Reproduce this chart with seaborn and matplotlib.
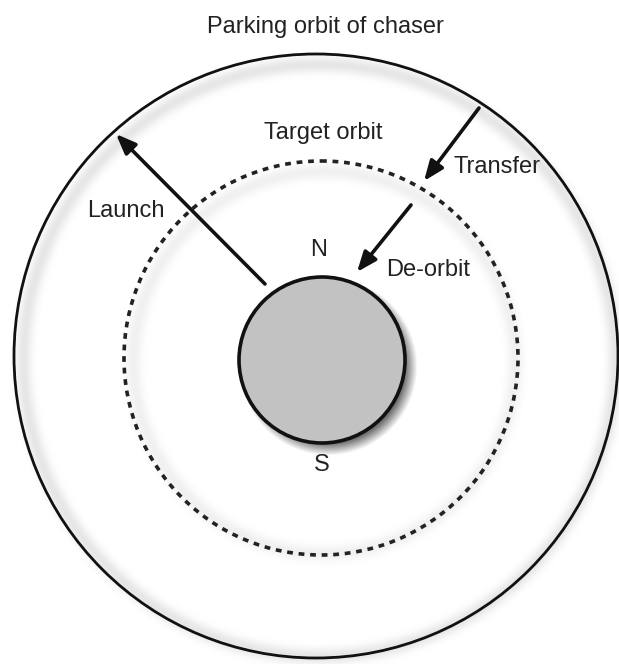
import numpy as np
import matplotlib.pyplot as plt
import seaborn as sns
from matplotlib.patches import Circle

sns.set_theme(style="white")
plt.rcParams['font.family'] = ['Liberation Sans', 'DejaVu Sans']

# orbits (pixel units of the original diagram)
orbit_names = ['Parking orbit of chaser', 'Target orbit', 'Earth']
orbit_cx = [316, 321, 322]
orbit_cy = [356, 358, 360]
orbit_r = [302, 197, 83]

# manoeuvres: start -> end
arrow_names = ['Launch', 'Transfer', 'De-orbit']
arrow_x0 = [265, 479, 411]
arrow_y0 = [284, 108, 205]
arrow_x1 = [116, 424, 357]
arrow_y1 = [134, 181, 272]

# text labels
label_text = ['Parking orbit of chaser', 'Target orbit', 'Transfer', 'Launch', 'N', 'De-orbit', 'S']
label_x = [325, 323, 497, 126, 319, 428, 322]
label_y = [27, 133, 167, 211, 250, 270, 465]

W, H = 619, 664
fig = plt.figure(figsize=(W / 100, H / 100), dpi=100)
ax = fig.add_axes([0, 0, 1, 1])
ax.set_xlim(0, W)
ax.set_ylim(H, 0)
ax.set_aspect('equal')
ax.axis('off')

# soft shadows
yy, xx = np.mgrid[0:H, 0:W]
shade = np.zeros((H, W))
# earth drop shadow
d = np.hypot(xx - orbit_cx[2] - 6, yy - orbit_cy[2] - 6)
shade = np.maximum(shade, 0.55 * np.clip((orbit_r[2] + 6 - d) / 12, 0, 1))
# faint glows along the orbits
for i, s in [(0, 0.10), (1, 0.06)]:
    d = np.hypot(xx - orbit_cx[i] - 3, yy - orbit_cy[i] - 4)
    shade = np.maximum(shade, s * np.exp(-((d - orbit_r[i] + 6) / 8) ** 2))
rgba = np.zeros((H, W, 4))
rgba[..., 3] = shade
ax.imshow(rgba, extent=(0, W, H, 0), zorder=1)

ax.add_patch(Circle((orbit_cx[0], orbit_cy[0]), orbit_r[0], fill=False,
                    ec='#111111', lw=2.0, zorder=2))
ax.add_patch(Circle((orbit_cx[1], orbit_cy[1]), orbit_r[1], fill=False,
                    ec='#222222', lw=2.6, ls=(0, (1.6, 1.6)), zorder=2))
ax.add_patch(Circle((orbit_cx[2], orbit_cy[2]), orbit_r[2], fc='#c2c2c2',
                    ec='#111111', lw=2.6, zorder=3))

for x0, y0, x1, y1 in zip(arrow_x0, arrow_y0, arrow_x1, arrow_y1):
    ax.annotate('', xy=(x1, y1), xytext=(x0, y0),
                arrowprops=dict(arrowstyle='-|>,head_length=1.0,head_width=0.4',
                                color='#111111', lw=2.6, shrinkA=0, shrinkB=0),
                zorder=4)

for t, x, y in zip(label_text, label_x, label_y):
    ax.text(x, y, t, ha='center', va='center', fontsize=17, color='#222222', zorder=5)

fig.savefig('out.png', dpi=100)
